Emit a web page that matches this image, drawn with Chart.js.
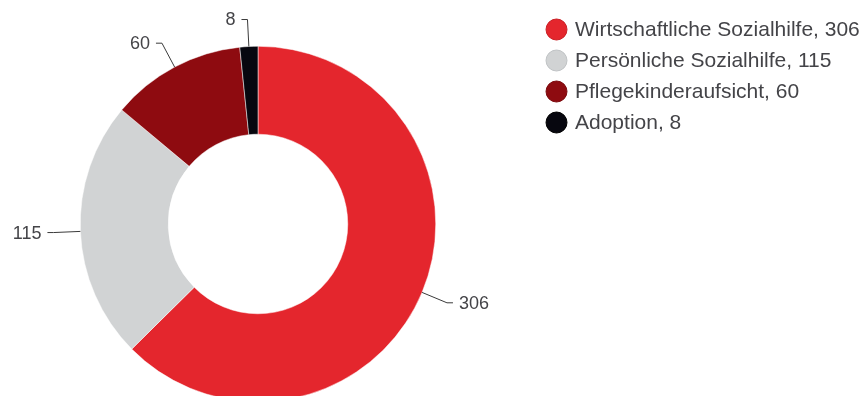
<!DOCTYPE html>
<html><head><meta charset="utf-8">
<script src="https://cdn.jsdelivr.net/npm/chart.js@4/dist/chart.umd.min.js"></script>
<style>
html,body{margin:0;padding:0;background:#fff;overflow:hidden;}
#wrap{width:868px;height:396px;overflow:hidden;position:relative;}
canvas{display:block;}
</style></head>
<body><div id="wrap"><canvas id="c" width="868" height="420"></canvas></div>
<script>
const categories = ["Wirtschaftliche Sozialhilfe", "Persönliche Sozialhilfe", "Pflegekinderaufsicht", "Adoption"];
const values = [306, 115, 60, 8];
const colors = ["#e4262d", "#d1d3d4", "#8e0b10", "#07070f"];
const borderColors = ["#c91d23", "#bfc2c4", "#7a080c", "#000000"];

const FONT = "'Liberation Sans', Arial, sans-serif";
const TEXT = "#444448";

const sliceLabels = {
  id: 'sliceLabels',
  afterDatasetsDraw(chart) {
    const ctx = chart.ctx;
    const meta = chart.getDatasetMeta(0);
    ctx.save();
    ctx.strokeStyle = '#3a3a3a';
    ctx.lineWidth = 1;
    ctx.fillStyle = TEXT;
    ctx.font = '18px ' + FONT;
    ctx.textBaseline = 'middle';
    meta.data.forEach((arc, i) => {
      const p = arc.getProps(['x','y','startAngle','endAngle','outerRadius'], true);
      const a = (p.startAngle + p.endAngle) / 2;
      const cx = Math.cos(a), sy = Math.sin(a);
      const x0 = p.x + p.outerRadius * cx, y0 = p.y + p.outerRadius * sy;
      const x1 = p.x + (p.outerRadius + 27) * cx, y1 = p.y + (p.outerRadius + 27) * sy;
      const dir = cx >= 0 ? 1 : -1;
      const x2 = x1 + dir * 6;
      ctx.beginPath();
      ctx.moveTo(x0, y0); ctx.lineTo(x1, y1); ctx.lineTo(x2, y1);
      ctx.stroke();
      ctx.textAlign = dir > 0 ? 'left' : 'right';
      ctx.fillText(String(values[i]), x2 + dir * 6, y1 + 1);
    });
    ctx.restore();
  }
};

const sideLegend = {
  id: 'sideLegend',
  afterDraw(chart) {
    const ctx = chart.ctx;
    ctx.save();
    ctx.font = '21px ' + FONT;
    ctx.textBaseline = 'middle';
    ctx.textAlign = 'left';
    categories.forEach((c, i) => {
      const y = 29.5 + i * 31;
      ctx.beginPath();
      ctx.arc(556.5, y, 10.5, 0, Math.PI * 2);
      ctx.fillStyle = colors[i];
      ctx.fill();
      ctx.lineWidth = 1;
      ctx.strokeStyle = borderColors[i];
      ctx.stroke();
      ctx.fillStyle = TEXT;
      ctx.fillText(c + ', ' + values[i], 575, y + 1);
    });
    ctx.restore();
  }
};

new Chart(document.getElementById('c'), {
  type: 'doughnut',
  data: {
    labels: categories,
    datasets: [{
      data: values,
      backgroundColor: colors,
      borderColor: '#ffffff',
      borderWidth: 0.5
    }]
  },
  options: {
    responsive: false,
    animation: false,
    devicePixelRatio: 1,
    cutout: '50.5%',
    layout: { padding: { left: 80, top: 46, right: 432, bottom: 18 } },
    plugins: { legend: { display: false }, tooltip: { enabled: false } }
  },
  plugins: [sliceLabels, sideLegend]
});
</script>
</body></html>
